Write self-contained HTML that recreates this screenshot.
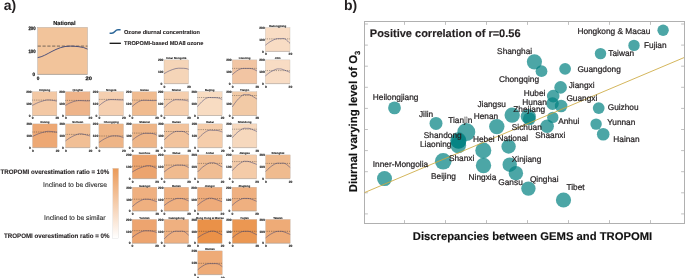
<!DOCTYPE html>
<html><head><meta charset="utf-8"><style>
html,body{margin:0;padding:0;background:#fff;}
body{width:685px;height:278px;overflow:hidden;}
svg{display:block;font-family:"Liberation Sans", sans-serif;will-change:transform;text-rendering:geometricPrecision;}
</style></head><body>
<svg width="685" height="278" viewBox="0 0 685 278" font-family='"Liberation Sans", sans-serif'>
<text x="3.8" y="10.4" font-size="14" font-weight="bold" fill="#231f20">a)</text>
<text x="343.9" y="10.4" font-size="14" font-weight="bold" fill="#231f20">b)</text>
<rect x="37.70" y="27.40" width="49.80" height="47.00" fill="#f2c49b" stroke="#b5aca4" stroke-width="0.5"/>
<line x1="37.70" y1="74.40" x2="87.50" y2="74.40" stroke="#a39890" stroke-width="0.6"/>
<line x1="37.70" y1="46.10" x2="87.50" y2="46.10" stroke="#333" stroke-width="0.65" stroke-dasharray="3.2 1.6"/>
<path d="M37.70,57.60 C46.70,56.40 56.00,46.10 70.00,46.10 C74.00,46.10 83.50,46.60 87.50,49.10" fill="none" stroke="#3d4677" stroke-width="0.90"/>
<g font-size="4.9" font-weight="bold" fill="#1a1a1a" stroke="#1a1a1a" stroke-width="0.25"><text x="28.40" y="29.75" textLength="7.2" lengthAdjust="spacingAndGlyphs">200</text><text x="28.40" y="53.35" textLength="7.2" lengthAdjust="spacingAndGlyphs">100</text><text x="32.40" y="76.35" textLength="2.6" lengthAdjust="spacingAndGlyphs">0</text><text x="36.80" y="80.05" textLength="2.6" lengthAdjust="spacingAndGlyphs">0</text><text x="85.50" y="80.05" textLength="6.4" lengthAdjust="spacingAndGlyphs">20</text></g>
<text x="64.40" y="25.20" font-size="5.7" font-weight="bold" fill="#1a1a1a" stroke="#1a1a1a" stroke-width="0.15" text-anchor="middle">National</text>
<path d="M109.6,33.2 L111.8,33.2 C115,33.2 114.8,29.8 118,29.8 L120.6,29.8" fill="none" stroke="#2d6799" stroke-width="1.5"/>
<line x1="109.6" y1="43.3" x2="120.9" y2="43.3" stroke="#111" stroke-width="1.3"/>
<text x="124" y="34" font-size="5.6" font-weight="bold" fill="#231f20" stroke="#231f20" stroke-width="0.1">Ozone diurnal concentration</text>
<text x="124" y="45.1" font-size="5.6" font-weight="bold" fill="#231f20" stroke="#231f20" stroke-width="0.1">TROPOMI-based MDA8 ozone</text>
<rect x="265.40" y="27.60" width="24.60" height="23.80" fill="#f8dcc4" stroke="#b5aca4" stroke-width="0.3"/>
<line x1="265.40" y1="51.40" x2="290.00" y2="51.40" stroke="#a39890" stroke-width="0.45"/>
<line x1="265.40" y1="38.90" x2="290.00" y2="38.90" stroke="#2a2a2a" stroke-width="0.50" stroke-dasharray="0.8 1.0"/>
<path d="M265.40,45.20 C266.19,44.61 268.40,42.73 270.17,41.68 C271.94,40.63 274.28,39.41 276.00,38.90 C277.72,38.39 279.00,38.65 280.50,38.65 C282.00,38.65 283.42,38.11 285.00,38.90 C286.58,39.69 289.17,42.65 290.00,43.40" fill="none" stroke="#3c4170" stroke-width="0.50"/>
<g font-size="3.3" font-weight="bold" fill="#1a1a1a" stroke="#1a1a1a" stroke-width="0.12" text-anchor="end"><text x="264.80" y="29.18">200</text><text x="264.80" y="41.08">100</text><text x="263.80" y="52.58">0</text></g>
<g font-size="3.3" font-weight="bold" fill="#1a1a1a" stroke="#1a1a1a" stroke-width="0.12" text-anchor="middle"><text x="265.80" y="55.38">0</text><text x="290.40" y="55.38">20</text></g>
<text x="277.70" y="27.00" font-size="2.85" font-weight="bold" fill="#1a1a1a" stroke="#1a1a1a" stroke-width="0.1" text-anchor="middle">Heilongjiang</text>
<rect x="164.00" y="59.90" width="24.60" height="23.80" fill="#f5d5b8" stroke="#b5aca4" stroke-width="0.3"/>
<line x1="164.00" y1="83.70" x2="188.60" y2="83.70" stroke="#a39890" stroke-width="0.45"/>
<path d="M164.00,73.70 C164.90,73.21 167.40,71.65 169.40,70.79 C171.40,69.92 174.07,68.92 176.00,68.50 C177.93,68.08 179.33,68.25 181.00,68.25 C182.67,68.25 184.73,68.31 186.00,68.50 C187.27,68.69 188.17,69.25 188.60,69.40" fill="none" stroke="#3c4170" stroke-width="0.50"/>
<g font-size="3.3" font-weight="bold" fill="#1a1a1a" stroke="#1a1a1a" stroke-width="0.12" text-anchor="end"><text x="163.40" y="61.48">200</text><text x="163.40" y="73.38">100</text><text x="162.40" y="84.88">0</text></g>
<g font-size="3.3" font-weight="bold" fill="#1a1a1a" stroke="#1a1a1a" stroke-width="0.12" text-anchor="middle"><text x="164.40" y="87.68">0</text><text x="189.00" y="87.68">20</text></g>
<text x="176.30" y="59.30" font-size="2.85" font-weight="bold" fill="#1a1a1a" stroke="#1a1a1a" stroke-width="0.1" text-anchor="middle">Inner Mongolia</text>
<rect x="232.30" y="59.90" width="24.60" height="23.80" fill="#f2c5a3" stroke="#b5aca4" stroke-width="0.3"/>
<line x1="232.30" y1="83.70" x2="256.90" y2="83.70" stroke="#a39890" stroke-width="0.45"/>
<line x1="232.30" y1="68.40" x2="256.90" y2="68.40" stroke="#2a2a2a" stroke-width="0.50" stroke-dasharray="0.8 1.0"/>
<path d="M232.30,74.70 C232.95,74.14 234.77,72.34 236.22,71.34 C237.66,70.34 239.29,69.18 241.00,68.70 C242.71,68.22 244.67,68.45 246.50,68.45 C248.33,68.45 250.27,68.29 252.00,68.70 C253.73,69.11 256.08,70.53 256.90,70.90" fill="none" stroke="#3c4170" stroke-width="0.50"/>
<g font-size="3.3" font-weight="bold" fill="#1a1a1a" stroke="#1a1a1a" stroke-width="0.12" text-anchor="end"><text x="231.70" y="61.48">200</text><text x="231.70" y="73.38">100</text><text x="230.70" y="84.88">0</text></g>
<g font-size="3.3" font-weight="bold" fill="#1a1a1a" stroke="#1a1a1a" stroke-width="0.12" text-anchor="middle"><text x="232.70" y="87.68">0</text><text x="257.30" y="87.68">20</text></g>
<text x="244.60" y="59.30" font-size="2.85" font-weight="bold" fill="#1a1a1a" stroke="#1a1a1a" stroke-width="0.1" text-anchor="middle">Liaoning</text>
<rect x="265.40" y="59.90" width="24.60" height="23.80" fill="#f8dcc4" stroke="#b5aca4" stroke-width="0.3"/>
<line x1="265.40" y1="83.70" x2="290.00" y2="83.70" stroke="#a39890" stroke-width="0.45"/>
<line x1="265.40" y1="70.60" x2="290.00" y2="70.60" stroke="#2a2a2a" stroke-width="0.50" stroke-dasharray="0.8 1.0"/>
<path d="M265.40,75.90 C266.19,75.28 268.40,73.28 270.17,72.16 C271.94,71.04 274.53,69.73 276.00,69.20 C277.47,68.66 278.00,68.95 279.00,68.95 C280.00,68.95 280.17,68.64 282.00,69.20 C283.83,69.76 288.67,71.78 290.00,72.30" fill="none" stroke="#3c4170" stroke-width="0.50"/>
<g font-size="3.3" font-weight="bold" fill="#1a1a1a" stroke="#1a1a1a" stroke-width="0.12" text-anchor="end"><text x="264.80" y="61.48">200</text><text x="264.80" y="73.38">100</text><text x="263.80" y="84.88">0</text></g>
<g font-size="3.3" font-weight="bold" fill="#1a1a1a" stroke="#1a1a1a" stroke-width="0.12" text-anchor="middle"><text x="265.80" y="87.68">0</text><text x="290.40" y="87.68">20</text></g>
<text x="277.70" y="59.30" font-size="2.85" font-weight="bold" fill="#1a1a1a" stroke="#1a1a1a" stroke-width="0.1" text-anchor="middle">Jilin</text>
<rect x="32.30" y="91.70" width="24.60" height="23.80" fill="#f3c8a4" stroke="#b5aca4" stroke-width="0.3"/>
<line x1="32.30" y1="115.50" x2="56.90" y2="115.50" stroke="#a39890" stroke-width="0.45"/>
<line x1="32.30" y1="100.10" x2="56.90" y2="100.10" stroke="#2a2a2a" stroke-width="0.50" stroke-dasharray="0.8 1.0"/>
<path d="M32.30,105.40 C33.30,104.91 36.10,103.35 38.33,102.48 C40.56,101.62 43.95,100.62 45.70,100.20 C47.45,99.78 47.80,99.95 48.85,99.95 C49.90,99.95 50.66,100.01 52.00,100.20 C53.34,100.39 56.08,100.95 56.90,101.10" fill="none" stroke="#3c4170" stroke-width="0.50"/>
<g font-size="3.3" font-weight="bold" fill="#1a1a1a" stroke="#1a1a1a" stroke-width="0.12" text-anchor="end"><text x="31.70" y="93.28">200</text><text x="31.70" y="105.18">100</text><text x="30.70" y="116.68">0</text></g>
<g font-size="3.3" font-weight="bold" fill="#1a1a1a" stroke="#1a1a1a" stroke-width="0.12" text-anchor="middle"><text x="32.70" y="119.48">0</text><text x="57.30" y="119.48">20</text></g>
<text x="44.60" y="91.10" font-size="2.85" font-weight="bold" fill="#1a1a1a" stroke="#1a1a1a" stroke-width="0.1" text-anchor="middle">Xinjiang</text>
<rect x="65.40" y="91.70" width="24.60" height="23.80" fill="#eeb48a" stroke="#b5aca4" stroke-width="0.3"/>
<line x1="65.40" y1="115.50" x2="90.00" y2="115.50" stroke="#a39890" stroke-width="0.45"/>
<line x1="65.40" y1="100.40" x2="90.00" y2="100.40" stroke="#2a2a2a" stroke-width="0.50" stroke-dasharray="0.8 1.0"/>
<path d="M65.40,105.40 C66.20,104.98 68.40,103.62 70.17,102.87 C71.94,102.12 74.19,101.27 76.00,100.90 C77.81,100.53 79.33,100.65 81.00,100.65 C82.67,100.65 84.50,100.87 86.00,100.90 C87.50,100.92 89.33,100.82 90.00,100.80" fill="none" stroke="#3c4170" stroke-width="0.50"/>
<g font-size="3.3" font-weight="bold" fill="#1a1a1a" stroke="#1a1a1a" stroke-width="0.12" text-anchor="end"><text x="64.80" y="93.28">200</text><text x="64.80" y="105.18">100</text><text x="63.80" y="116.68">0</text></g>
<g font-size="3.3" font-weight="bold" fill="#1a1a1a" stroke="#1a1a1a" stroke-width="0.12" text-anchor="middle"><text x="65.80" y="119.48">0</text><text x="90.40" y="119.48">20</text></g>
<text x="77.70" y="91.10" font-size="2.85" font-weight="bold" fill="#1a1a1a" stroke="#1a1a1a" stroke-width="0.1" text-anchor="middle">Qinghai</text>
<rect x="98.90" y="91.70" width="24.60" height="23.80" fill="#f5cfb0" stroke="#b5aca4" stroke-width="0.3"/>
<line x1="98.90" y1="115.50" x2="123.50" y2="115.50" stroke="#a39890" stroke-width="0.45"/>
<line x1="98.90" y1="99.40" x2="123.50" y2="99.40" stroke="#2a2a2a" stroke-width="0.50" stroke-dasharray="0.8 1.0"/>
<path d="M98.90,105.90 C99.58,105.34 101.48,103.55 103.00,102.55 C104.51,101.55 106.25,100.38 108.00,99.90 C109.75,99.42 111.67,99.65 113.50,99.65 C115.33,99.65 117.33,99.82 119.00,99.90 C120.67,99.97 122.75,100.07 123.50,100.10" fill="none" stroke="#3c4170" stroke-width="0.50"/>
<g font-size="3.3" font-weight="bold" fill="#1a1a1a" stroke="#1a1a1a" stroke-width="0.12" text-anchor="end"><text x="98.30" y="93.28">200</text><text x="98.30" y="105.18">100</text><text x="97.30" y="116.68">0</text></g>
<g font-size="3.3" font-weight="bold" fill="#1a1a1a" stroke="#1a1a1a" stroke-width="0.12" text-anchor="middle"><text x="99.30" y="119.48">0</text><text x="123.90" y="119.48">20</text></g>
<text x="111.20" y="91.10" font-size="2.85" font-weight="bold" fill="#1a1a1a" stroke="#1a1a1a" stroke-width="0.1" text-anchor="middle">Ningxia</text>
<rect x="132.10" y="91.70" width="24.60" height="23.80" fill="#f0bb8f" stroke="#b5aca4" stroke-width="0.3"/>
<line x1="132.10" y1="115.50" x2="156.70" y2="115.50" stroke="#a39890" stroke-width="0.45"/>
<line x1="132.10" y1="100.10" x2="156.70" y2="100.10" stroke="#2a2a2a" stroke-width="0.50" stroke-dasharray="0.8 1.0"/>
<path d="M132.10,106.60 C132.77,106.04 134.62,104.24 136.10,103.24 C137.59,102.24 139.27,101.08 141.00,100.60 C142.73,100.12 144.67,100.35 146.50,100.35 C148.33,100.35 150.30,100.57 152.00,100.60 C153.70,100.62 155.92,100.52 156.70,100.50" fill="none" stroke="#3c4170" stroke-width="0.50"/>
<g font-size="3.3" font-weight="bold" fill="#1a1a1a" stroke="#1a1a1a" stroke-width="0.12" text-anchor="end"><text x="131.50" y="93.28">200</text><text x="131.50" y="105.18">100</text><text x="130.50" y="116.68">0</text></g>
<g font-size="3.3" font-weight="bold" fill="#1a1a1a" stroke="#1a1a1a" stroke-width="0.12" text-anchor="middle"><text x="132.50" y="119.48">0</text><text x="157.10" y="119.48">20</text></g>
<text x="144.40" y="91.10" font-size="2.85" font-weight="bold" fill="#1a1a1a" stroke="#1a1a1a" stroke-width="0.1" text-anchor="middle">Gansu</text>
<rect x="164.00" y="91.70" width="24.60" height="23.80" fill="#f5cfaf" stroke="#b5aca4" stroke-width="0.3"/>
<line x1="164.00" y1="115.50" x2="188.60" y2="115.50" stroke="#a39890" stroke-width="0.45"/>
<line x1="164.00" y1="99.40" x2="188.60" y2="99.40" stroke="#2a2a2a" stroke-width="0.50" stroke-dasharray="0.8 1.0"/>
<path d="M164.00,107.70 C164.75,106.99 166.83,104.73 168.50,103.47 C170.17,102.20 172.25,100.70 174.00,100.10 C175.75,99.50 177.33,99.85 179.00,99.85 C180.67,99.85 182.40,99.89 184.00,100.10 C185.60,100.31 187.83,100.93 188.60,101.10" fill="none" stroke="#3c4170" stroke-width="0.50"/>
<g font-size="3.3" font-weight="bold" fill="#1a1a1a" stroke="#1a1a1a" stroke-width="0.12" text-anchor="end"><text x="163.40" y="93.28">200</text><text x="163.40" y="105.18">100</text><text x="162.40" y="116.68">0</text></g>
<g font-size="3.3" font-weight="bold" fill="#1a1a1a" stroke="#1a1a1a" stroke-width="0.12" text-anchor="middle"><text x="164.40" y="119.48">0</text><text x="189.00" y="119.48">20</text></g>
<text x="176.30" y="91.10" font-size="2.85" font-weight="bold" fill="#1a1a1a" stroke="#1a1a1a" stroke-width="0.1" text-anchor="middle">Shanxi</text>
<rect x="197.50" y="91.70" width="24.60" height="23.80" fill="#f8dcc2" stroke="#b5aca4" stroke-width="0.3"/>
<line x1="197.50" y1="115.50" x2="222.10" y2="115.50" stroke="#a39890" stroke-width="0.45"/>
<line x1="197.50" y1="97.50" x2="222.10" y2="97.50" stroke="#2a2a2a" stroke-width="0.50" stroke-dasharray="0.8 1.0"/>
<path d="M197.50,106.60 C198.21,105.79 200.19,103.21 201.78,101.76 C203.36,100.31 205.21,98.58 207.00,97.90 C208.79,97.21 210.67,97.65 212.50,97.65 C214.33,97.65 216.40,97.61 218.00,97.90 C219.60,98.19 221.42,99.15 222.10,99.40" fill="none" stroke="#3c4170" stroke-width="0.50"/>
<g font-size="3.3" font-weight="bold" fill="#1a1a1a" stroke="#1a1a1a" stroke-width="0.12" text-anchor="end"><text x="196.90" y="93.28">200</text><text x="196.90" y="105.18">100</text><text x="195.90" y="116.68">0</text></g>
<g font-size="3.3" font-weight="bold" fill="#1a1a1a" stroke="#1a1a1a" stroke-width="0.12" text-anchor="middle"><text x="197.90" y="119.48">0</text><text x="222.50" y="119.48">20</text></g>
<text x="209.80" y="91.10" font-size="2.85" font-weight="bold" fill="#1a1a1a" stroke="#1a1a1a" stroke-width="0.1" text-anchor="middle">Beijing</text>
<rect x="232.30" y="91.70" width="24.60" height="23.80" fill="#f2caa6" stroke="#b5aca4" stroke-width="0.3"/>
<line x1="232.30" y1="115.50" x2="256.90" y2="115.50" stroke="#a39890" stroke-width="0.45"/>
<line x1="232.30" y1="95.50" x2="256.90" y2="95.50" stroke="#2a2a2a" stroke-width="0.50" stroke-dasharray="0.8 1.0"/>
<path d="M232.30,106.90 C233.10,105.79 235.33,102.25 237.12,100.25 C238.90,98.25 241.44,95.83 243.00,94.90 C244.56,93.97 245.33,94.65 246.50,94.65 C247.67,94.65 248.27,94.17 250.00,94.90 C251.73,95.62 255.75,98.32 256.90,99.00" fill="none" stroke="#3c4170" stroke-width="0.50"/>
<g font-size="3.3" font-weight="bold" fill="#1a1a1a" stroke="#1a1a1a" stroke-width="0.12" text-anchor="end"><text x="231.70" y="93.28">200</text><text x="231.70" y="105.18">100</text><text x="230.70" y="116.68">0</text></g>
<g font-size="3.3" font-weight="bold" fill="#1a1a1a" stroke="#1a1a1a" stroke-width="0.12" text-anchor="middle"><text x="232.70" y="119.48">0</text><text x="257.30" y="119.48">20</text></g>
<text x="244.60" y="91.10" font-size="2.85" font-weight="bold" fill="#1a1a1a" stroke="#1a1a1a" stroke-width="0.1" text-anchor="middle">Tianjin</text>
<rect x="32.50" y="123.90" width="24.60" height="23.80" fill="#eda874" stroke="#b5aca4" stroke-width="0.3"/>
<line x1="32.50" y1="147.70" x2="57.10" y2="147.70" stroke="#a39890" stroke-width="0.45"/>
<line x1="32.50" y1="132.00" x2="57.10" y2="132.00" stroke="#2a2a2a" stroke-width="0.50" stroke-dasharray="0.8 1.0"/>
<path d="M32.50,136.50 C33.51,136.04 36.33,134.57 38.58,133.75 C40.83,132.93 44.26,132.00 46.00,131.60 C47.74,131.20 48.00,131.35 49.00,131.35 C50.00,131.35 50.65,131.44 52.00,131.60 C53.35,131.76 56.25,132.18 57.10,132.30" fill="none" stroke="#3c4170" stroke-width="0.50"/>
<g font-size="3.3" font-weight="bold" fill="#1a1a1a" stroke="#1a1a1a" stroke-width="0.12" text-anchor="end"><text x="31.90" y="125.48">200</text><text x="31.90" y="137.38">100</text><text x="30.90" y="148.88">0</text></g>
<g font-size="3.3" font-weight="bold" fill="#1a1a1a" stroke="#1a1a1a" stroke-width="0.12" text-anchor="middle"><text x="32.90" y="151.68">0</text><text x="57.50" y="151.68">20</text></g>
<text x="44.80" y="123.30" font-size="2.85" font-weight="bold" fill="#1a1a1a" stroke="#1a1a1a" stroke-width="0.1" text-anchor="middle">Xizang</text>
<rect x="65.50" y="123.90" width="24.60" height="23.80" fill="#f1bf95" stroke="#b5aca4" stroke-width="0.3"/>
<line x1="65.50" y1="147.70" x2="90.10" y2="147.70" stroke="#a39890" stroke-width="0.45"/>
<line x1="65.50" y1="134.40" x2="90.10" y2="134.40" stroke="#2a2a2a" stroke-width="0.50" stroke-dasharray="0.8 1.0"/>
<path d="M65.50,140.90 C66.44,140.27 69.04,138.24 71.12,137.10 C73.21,135.97 76.44,134.64 78.00,134.10 C79.56,133.56 79.67,133.85 80.50,133.85 C81.33,133.85 81.40,133.74 83.00,134.10 C84.60,134.46 88.92,135.68 90.10,136.00" fill="none" stroke="#3c4170" stroke-width="0.50"/>
<g font-size="3.3" font-weight="bold" fill="#1a1a1a" stroke="#1a1a1a" stroke-width="0.12" text-anchor="end"><text x="64.90" y="125.48">200</text><text x="64.90" y="137.38">100</text><text x="63.90" y="148.88">0</text></g>
<g font-size="3.3" font-weight="bold" fill="#1a1a1a" stroke="#1a1a1a" stroke-width="0.12" text-anchor="middle"><text x="65.90" y="151.68">0</text><text x="90.50" y="151.68">20</text></g>
<text x="77.80" y="123.30" font-size="2.85" font-weight="bold" fill="#1a1a1a" stroke="#1a1a1a" stroke-width="0.1" text-anchor="middle">Sichuan</text>
<rect x="98.90" y="123.90" width="24.60" height="23.80" fill="#eeb587" stroke="#b5aca4" stroke-width="0.3"/>
<line x1="98.90" y1="147.70" x2="123.50" y2="147.70" stroke="#a39890" stroke-width="0.45"/>
<line x1="98.90" y1="136.00" x2="123.50" y2="136.00" stroke="#2a2a2a" stroke-width="0.50" stroke-dasharray="0.8 1.0"/>
<path d="M98.90,142.50 C99.81,141.90 102.33,139.99 104.34,138.93 C106.36,137.86 109.22,136.61 111.00,136.10 C112.78,135.59 113.67,135.85 115.00,135.85 C116.33,135.85 117.58,135.79 119.00,136.10 C120.42,136.41 122.75,137.43 123.50,137.70" fill="none" stroke="#3c4170" stroke-width="0.50"/>
<g font-size="3.3" font-weight="bold" fill="#1a1a1a" stroke="#1a1a1a" stroke-width="0.12" text-anchor="end"><text x="98.30" y="125.48">200</text><text x="98.30" y="137.38">100</text><text x="97.30" y="148.88">0</text></g>
<g font-size="3.3" font-weight="bold" fill="#1a1a1a" stroke="#1a1a1a" stroke-width="0.12" text-anchor="middle"><text x="99.30" y="151.68">0</text><text x="123.90" y="151.68">20</text></g>
<text x="111.20" y="123.30" font-size="2.85" font-weight="bold" fill="#1a1a1a" stroke="#1a1a1a" stroke-width="0.1" text-anchor="middle">Chongqing</text>
<rect x="132.30" y="123.90" width="24.60" height="23.80" fill="#eeb587" stroke="#b5aca4" stroke-width="0.3"/>
<line x1="132.30" y1="147.70" x2="156.90" y2="147.70" stroke="#a39890" stroke-width="0.45"/>
<line x1="132.30" y1="133.10" x2="156.90" y2="133.10" stroke="#2a2a2a" stroke-width="0.50" stroke-dasharray="0.8 1.0"/>
<path d="M132.30,140.10 C133.10,139.50 135.33,137.55 137.12,136.47 C138.90,135.39 141.19,134.12 143.00,133.60 C144.81,133.08 146.33,133.35 148.00,133.35 C149.67,133.35 151.52,133.29 153.00,133.60 C154.48,133.91 156.25,134.93 156.90,135.20" fill="none" stroke="#3c4170" stroke-width="0.50"/>
<g font-size="3.3" font-weight="bold" fill="#1a1a1a" stroke="#1a1a1a" stroke-width="0.12" text-anchor="end"><text x="131.70" y="125.48">200</text><text x="131.70" y="137.38">100</text><text x="130.70" y="148.88">0</text></g>
<g font-size="3.3" font-weight="bold" fill="#1a1a1a" stroke="#1a1a1a" stroke-width="0.12" text-anchor="middle"><text x="132.70" y="151.68">0</text><text x="157.30" y="151.68">20</text></g>
<text x="144.60" y="123.30" font-size="2.85" font-weight="bold" fill="#1a1a1a" stroke="#1a1a1a" stroke-width="0.1" text-anchor="middle">Shaanxi</text>
<rect x="164.30" y="123.90" width="24.60" height="23.80" fill="#f2c39c" stroke="#b5aca4" stroke-width="0.3"/>
<line x1="164.30" y1="147.70" x2="188.90" y2="147.70" stroke="#a39890" stroke-width="0.45"/>
<line x1="164.30" y1="131.50" x2="188.90" y2="131.50" stroke="#2a2a2a" stroke-width="0.50" stroke-dasharray="0.8 1.0"/>
<path d="M164.30,139.80 C165.10,139.05 167.33,136.64 169.12,135.29 C170.90,133.94 173.27,132.34 175.00,131.70 C176.73,131.06 178.00,131.45 179.50,131.45 C181.00,131.45 182.43,131.16 184.00,131.70 C185.57,132.24 188.08,134.20 188.90,134.70" fill="none" stroke="#3c4170" stroke-width="0.50"/>
<g font-size="3.3" font-weight="bold" fill="#1a1a1a" stroke="#1a1a1a" stroke-width="0.12" text-anchor="end"><text x="163.70" y="125.48">200</text><text x="163.70" y="137.38">100</text><text x="162.70" y="148.88">0</text></g>
<g font-size="3.3" font-weight="bold" fill="#1a1a1a" stroke="#1a1a1a" stroke-width="0.12" text-anchor="middle"><text x="164.70" y="151.68">0</text><text x="189.30" y="151.68">20</text></g>
<text x="176.60" y="123.30" font-size="2.85" font-weight="bold" fill="#1a1a1a" stroke="#1a1a1a" stroke-width="0.1" text-anchor="middle">Henan</text>
<rect x="197.80" y="123.90" width="24.60" height="23.80" fill="#f5cdab" stroke="#b5aca4" stroke-width="0.3"/>
<line x1="197.80" y1="147.70" x2="222.40" y2="147.70" stroke="#a39890" stroke-width="0.45"/>
<line x1="197.80" y1="129.60" x2="222.40" y2="129.60" stroke="#2a2a2a" stroke-width="0.50" stroke-dasharray="0.8 1.0"/>
<path d="M197.80,139.00 C198.56,138.22 200.69,135.72 202.39,134.32 C204.09,132.92 206.23,131.26 208.00,130.60 C209.77,129.94 211.33,130.35 213.00,130.35 C214.67,130.35 216.43,130.32 218.00,130.60 C219.57,130.88 221.67,131.77 222.40,132.00" fill="none" stroke="#3c4170" stroke-width="0.50"/>
<g font-size="3.3" font-weight="bold" fill="#1a1a1a" stroke="#1a1a1a" stroke-width="0.12" text-anchor="end"><text x="197.20" y="125.48">200</text><text x="197.20" y="137.38">100</text><text x="196.20" y="148.88">0</text></g>
<g font-size="3.3" font-weight="bold" fill="#1a1a1a" stroke="#1a1a1a" stroke-width="0.12" text-anchor="middle"><text x="198.20" y="151.68">0</text><text x="222.80" y="151.68">20</text></g>
<text x="210.10" y="123.30" font-size="2.85" font-weight="bold" fill="#1a1a1a" stroke="#1a1a1a" stroke-width="0.1" text-anchor="middle">Hebei</text>
<rect x="232.30" y="123.90" width="24.60" height="23.80" fill="#f6d8bd" stroke="#b5aca4" stroke-width="0.3"/>
<line x1="232.30" y1="147.70" x2="256.90" y2="147.70" stroke="#a39890" stroke-width="0.45"/>
<line x1="232.30" y1="129.20" x2="256.90" y2="129.20" stroke="#2a2a2a" stroke-width="0.50" stroke-dasharray="0.8 1.0"/>
<path d="M232.30,137.70 C233.10,136.86 235.33,134.16 237.12,132.64 C238.90,131.12 241.44,129.31 243.00,128.60 C244.56,127.88 245.33,128.35 246.50,128.35 C247.67,128.35 248.27,128.07 250.00,128.60 C251.73,129.12 255.75,131.02 256.90,131.50" fill="none" stroke="#3c4170" stroke-width="0.50"/>
<g font-size="3.3" font-weight="bold" fill="#1a1a1a" stroke="#1a1a1a" stroke-width="0.12" text-anchor="end"><text x="231.70" y="125.48">200</text><text x="231.70" y="137.38">100</text><text x="230.70" y="148.88">0</text></g>
<g font-size="3.3" font-weight="bold" fill="#1a1a1a" stroke="#1a1a1a" stroke-width="0.12" text-anchor="middle"><text x="232.70" y="151.68">0</text><text x="257.30" y="151.68">20</text></g>
<text x="244.60" y="123.30" font-size="2.85" font-weight="bold" fill="#1a1a1a" stroke="#1a1a1a" stroke-width="0.1" text-anchor="middle">Shandong</text>
<rect x="132.20" y="154.90" width="24.60" height="23.80" fill="#eca46e" stroke="#b5aca4" stroke-width="0.3"/>
<line x1="132.20" y1="178.70" x2="156.80" y2="178.70" stroke="#a39890" stroke-width="0.45"/>
<line x1="132.20" y1="166.20" x2="156.80" y2="166.20" stroke="#2a2a2a" stroke-width="0.50" stroke-dasharray="0.8 1.0"/>
<path d="M132.20,172.00 C133.23,171.43 136.11,169.61 138.41,168.59 C140.71,167.57 144.32,166.39 146.00,165.90 C147.68,165.41 147.67,165.65 148.50,165.65 C149.33,165.65 149.62,165.44 151.00,165.90 C152.38,166.36 155.83,167.98 156.80,168.40" fill="none" stroke="#3c4170" stroke-width="0.50"/>
<g font-size="3.3" font-weight="bold" fill="#1a1a1a" stroke="#1a1a1a" stroke-width="0.12" text-anchor="end"><text x="131.60" y="156.48">200</text><text x="131.60" y="168.38">100</text><text x="130.60" y="179.88">0</text></g>
<g font-size="3.3" font-weight="bold" fill="#1a1a1a" stroke="#1a1a1a" stroke-width="0.12" text-anchor="middle"><text x="132.60" y="182.68">0</text><text x="157.20" y="182.68">20</text></g>
<text x="144.50" y="154.30" font-size="2.85" font-weight="bold" fill="#1a1a1a" stroke="#1a1a1a" stroke-width="0.1" text-anchor="middle">Guizhou</text>
<rect x="164.10" y="154.90" width="24.60" height="23.80" fill="#f0bb8f" stroke="#b5aca4" stroke-width="0.3"/>
<line x1="164.10" y1="178.70" x2="188.70" y2="178.70" stroke="#a39890" stroke-width="0.45"/>
<line x1="164.10" y1="165.10" x2="188.70" y2="165.10" stroke="#2a2a2a" stroke-width="0.50" stroke-dasharray="0.8 1.0"/>
<path d="M164.10,172.00 C164.92,171.39 167.19,169.41 169.00,168.31 C170.82,167.22 173.25,165.93 175.00,165.40 C176.75,164.87 178.00,165.15 179.50,165.15 C181.00,165.15 182.47,165.01 184.00,165.40 C185.53,165.79 187.92,167.15 188.70,167.50" fill="none" stroke="#3c4170" stroke-width="0.50"/>
<g font-size="3.3" font-weight="bold" fill="#1a1a1a" stroke="#1a1a1a" stroke-width="0.12" text-anchor="end"><text x="163.50" y="156.48">200</text><text x="163.50" y="168.38">100</text><text x="162.50" y="179.88">0</text></g>
<g font-size="3.3" font-weight="bold" fill="#1a1a1a" stroke="#1a1a1a" stroke-width="0.12" text-anchor="middle"><text x="164.50" y="182.68">0</text><text x="189.10" y="182.68">20</text></g>
<text x="176.40" y="154.30" font-size="2.85" font-weight="bold" fill="#1a1a1a" stroke="#1a1a1a" stroke-width="0.1" text-anchor="middle">Hubei</text>
<rect x="197.60" y="154.90" width="24.60" height="23.80" fill="#f0bd93" stroke="#b5aca4" stroke-width="0.3"/>
<line x1="197.60" y1="178.70" x2="222.20" y2="178.70" stroke="#a39890" stroke-width="0.45"/>
<line x1="197.60" y1="163.40" x2="222.20" y2="163.40" stroke="#2a2a2a" stroke-width="0.50" stroke-dasharray="0.8 1.0"/>
<path d="M197.60,172.00 C198.45,171.18 200.83,168.53 202.73,167.05 C204.63,165.57 207.45,163.80 209.00,163.10 C210.55,162.40 211.00,162.85 212.00,162.85 C213.00,162.85 213.30,162.41 215.00,163.10 C216.70,163.79 221.00,166.35 222.20,167.00" fill="none" stroke="#3c4170" stroke-width="0.50"/>
<g font-size="3.3" font-weight="bold" fill="#1a1a1a" stroke="#1a1a1a" stroke-width="0.12" text-anchor="end"><text x="197.00" y="156.48">200</text><text x="197.00" y="168.38">100</text><text x="196.00" y="179.88">0</text></g>
<g font-size="3.3" font-weight="bold" fill="#1a1a1a" stroke="#1a1a1a" stroke-width="0.12" text-anchor="middle"><text x="198.00" y="182.68">0</text><text x="222.60" y="182.68">20</text></g>
<text x="209.90" y="154.30" font-size="2.85" font-weight="bold" fill="#1a1a1a" stroke="#1a1a1a" stroke-width="0.1" text-anchor="middle">Anhui</text>
<rect x="232.20" y="154.90" width="24.60" height="23.80" fill="#f4cba8" stroke="#b5aca4" stroke-width="0.3"/>
<line x1="232.20" y1="178.70" x2="256.80" y2="178.70" stroke="#a39890" stroke-width="0.45"/>
<line x1="232.20" y1="161.60" x2="256.80" y2="161.60" stroke="#2a2a2a" stroke-width="0.50" stroke-dasharray="0.8 1.0"/>
<path d="M232.20,170.70 C233.01,169.86 235.26,167.16 237.06,165.64 C238.86,164.12 241.51,162.31 243.00,161.60 C244.49,160.88 245.00,161.35 246.00,161.35 C247.00,161.35 247.20,161.09 249.00,161.60 C250.80,162.11 255.50,163.93 256.80,164.40" fill="none" stroke="#3c4170" stroke-width="0.50"/>
<g font-size="3.3" font-weight="bold" fill="#1a1a1a" stroke="#1a1a1a" stroke-width="0.12" text-anchor="end"><text x="231.60" y="156.48">200</text><text x="231.60" y="168.38">100</text><text x="230.60" y="179.88">0</text></g>
<g font-size="3.3" font-weight="bold" fill="#1a1a1a" stroke="#1a1a1a" stroke-width="0.12" text-anchor="middle"><text x="232.60" y="182.68">0</text><text x="257.20" y="182.68">20</text></g>
<text x="244.50" y="154.30" font-size="2.85" font-weight="bold" fill="#1a1a1a" stroke="#1a1a1a" stroke-width="0.1" text-anchor="middle">Jiangsu</text>
<rect x="265.60" y="154.90" width="24.60" height="23.80" fill="#efbb8f" stroke="#b5aca4" stroke-width="0.3"/>
<line x1="265.60" y1="178.70" x2="290.20" y2="178.70" stroke="#a39890" stroke-width="0.45"/>
<line x1="265.60" y1="163.40" x2="290.20" y2="163.40" stroke="#2a2a2a" stroke-width="0.50" stroke-dasharray="0.8 1.0"/>
<path d="M265.60,171.60 C266.38,170.85 268.55,168.44 270.28,167.09 C272.01,165.74 274.30,164.14 276.00,163.50 C277.70,162.86 279.00,163.25 280.50,163.25 C282.00,163.25 283.38,162.79 285.00,163.50 C286.62,164.21 289.33,166.83 290.20,167.50" fill="none" stroke="#3c4170" stroke-width="0.50"/>
<g font-size="3.3" font-weight="bold" fill="#1a1a1a" stroke="#1a1a1a" stroke-width="0.12" text-anchor="end"><text x="265.00" y="156.48">200</text><text x="265.00" y="168.38">100</text><text x="264.00" y="179.88">0</text></g>
<g font-size="3.3" font-weight="bold" fill="#1a1a1a" stroke="#1a1a1a" stroke-width="0.12" text-anchor="middle"><text x="266.00" y="182.68">0</text><text x="290.60" y="182.68">20</text></g>
<text x="277.90" y="154.30" font-size="2.85" font-weight="bold" fill="#1a1a1a" stroke="#1a1a1a" stroke-width="0.1" text-anchor="middle">Shanghai</text>
<rect x="132.30" y="187.20" width="24.60" height="23.80" fill="#efb080" stroke="#b5aca4" stroke-width="0.3"/>
<line x1="132.30" y1="211.00" x2="156.90" y2="211.00" stroke="#a39890" stroke-width="0.45"/>
<line x1="132.30" y1="199.20" x2="156.90" y2="199.20" stroke="#2a2a2a" stroke-width="0.50" stroke-dasharray="0.8 1.0"/>
<path d="M132.30,206.60 C133.10,205.94 135.33,203.82 137.12,202.64 C138.90,201.46 141.44,200.06 143.00,199.50 C144.56,198.94 145.33,199.25 146.50,199.25 C147.67,199.25 148.27,199.09 150.00,199.50 C151.73,199.91 155.75,201.33 156.90,201.70" fill="none" stroke="#3c4170" stroke-width="0.50"/>
<g font-size="3.3" font-weight="bold" fill="#1a1a1a" stroke="#1a1a1a" stroke-width="0.12" text-anchor="end"><text x="131.70" y="188.78">200</text><text x="131.70" y="200.68">100</text><text x="130.70" y="212.18">0</text></g>
<g font-size="3.3" font-weight="bold" fill="#1a1a1a" stroke="#1a1a1a" stroke-width="0.12" text-anchor="middle"><text x="132.70" y="214.98">0</text><text x="157.30" y="214.98">20</text></g>
<text x="144.60" y="186.60" font-size="2.85" font-weight="bold" fill="#1a1a1a" stroke="#1a1a1a" stroke-width="0.1" text-anchor="middle">Guangxi</text>
<rect x="164.10" y="187.20" width="24.60" height="23.80" fill="#efb080" stroke="#b5aca4" stroke-width="0.3"/>
<line x1="164.10" y1="211.00" x2="188.70" y2="211.00" stroke="#a39890" stroke-width="0.45"/>
<line x1="164.10" y1="198.60" x2="188.70" y2="198.60" stroke="#2a2a2a" stroke-width="0.50" stroke-dasharray="0.8 1.0"/>
<path d="M164.10,205.50 C164.99,204.87 167.47,202.84 169.45,201.70 C171.44,200.57 174.33,199.24 176.00,198.70 C177.67,198.16 178.33,198.45 179.50,198.45 C180.67,198.45 181.47,198.29 183.00,198.70 C184.53,199.11 187.75,200.53 188.70,200.90" fill="none" stroke="#3c4170" stroke-width="0.50"/>
<g font-size="3.3" font-weight="bold" fill="#1a1a1a" stroke="#1a1a1a" stroke-width="0.12" text-anchor="end"><text x="163.50" y="188.78">200</text><text x="163.50" y="200.68">100</text><text x="162.50" y="212.18">0</text></g>
<g font-size="3.3" font-weight="bold" fill="#1a1a1a" stroke="#1a1a1a" stroke-width="0.12" text-anchor="middle"><text x="164.50" y="214.98">0</text><text x="189.10" y="214.98">20</text></g>
<text x="176.40" y="186.60" font-size="2.85" font-weight="bold" fill="#1a1a1a" stroke="#1a1a1a" stroke-width="0.1" text-anchor="middle">Hunan</text>
<rect x="197.40" y="187.20" width="24.60" height="23.80" fill="#eeab7a" stroke="#b5aca4" stroke-width="0.3"/>
<line x1="197.40" y1="211.00" x2="222.00" y2="211.00" stroke="#a39890" stroke-width="0.45"/>
<line x1="197.40" y1="198.60" x2="222.00" y2="198.60" stroke="#2a2a2a" stroke-width="0.50" stroke-dasharray="0.8 1.0"/>
<path d="M197.40,205.50 C198.19,204.85 200.40,202.76 202.17,201.59 C203.94,200.43 206.61,199.06 208.00,198.50 C209.39,197.94 209.67,198.25 210.50,198.25 C211.33,198.25 211.08,197.93 213.00,198.50 C214.92,199.07 220.50,201.17 222.00,201.70" fill="none" stroke="#3c4170" stroke-width="0.50"/>
<g font-size="3.3" font-weight="bold" fill="#1a1a1a" stroke="#1a1a1a" stroke-width="0.12" text-anchor="end"><text x="196.80" y="188.78">200</text><text x="196.80" y="200.68">100</text><text x="195.80" y="212.18">0</text></g>
<g font-size="3.3" font-weight="bold" fill="#1a1a1a" stroke="#1a1a1a" stroke-width="0.12" text-anchor="middle"><text x="197.80" y="214.98">0</text><text x="222.40" y="214.98">20</text></g>
<text x="209.70" y="186.60" font-size="2.85" font-weight="bold" fill="#1a1a1a" stroke="#1a1a1a" stroke-width="0.1" text-anchor="middle">Jiangxi</text>
<rect x="232.00" y="187.20" width="24.60" height="23.80" fill="#efb080" stroke="#b5aca4" stroke-width="0.3"/>
<line x1="232.00" y1="211.00" x2="256.60" y2="211.00" stroke="#a39890" stroke-width="0.45"/>
<line x1="232.00" y1="198.60" x2="256.60" y2="198.60" stroke="#2a2a2a" stroke-width="0.50" stroke-dasharray="0.8 1.0"/>
<path d="M232.00,205.50 C232.75,204.87 234.83,202.84 236.50,201.70 C238.17,200.57 240.42,199.24 242.00,198.70 C243.58,198.16 244.67,198.45 246.00,198.45 C247.33,198.45 248.23,198.22 250.00,198.70 C251.77,199.17 255.50,200.87 256.60,201.30" fill="none" stroke="#3c4170" stroke-width="0.50"/>
<g font-size="3.3" font-weight="bold" fill="#1a1a1a" stroke="#1a1a1a" stroke-width="0.12" text-anchor="end"><text x="231.40" y="188.78">200</text><text x="231.40" y="200.68">100</text><text x="230.40" y="212.18">0</text></g>
<g font-size="3.3" font-weight="bold" fill="#1a1a1a" stroke="#1a1a1a" stroke-width="0.12" text-anchor="middle"><text x="232.40" y="214.98">0</text><text x="257.00" y="214.98">20</text></g>
<text x="244.30" y="186.60" font-size="2.85" font-weight="bold" fill="#1a1a1a" stroke="#1a1a1a" stroke-width="0.1" text-anchor="middle">Zhejiang</text>
<rect x="132.10" y="219.40" width="24.60" height="23.80" fill="#eda46f" stroke="#b5aca4" stroke-width="0.3"/>
<line x1="132.10" y1="243.20" x2="156.70" y2="243.20" stroke="#a39890" stroke-width="0.45"/>
<line x1="132.10" y1="230.70" x2="156.70" y2="230.70" stroke="#2a2a2a" stroke-width="0.50" stroke-dasharray="0.8 1.0"/>
<path d="M132.10,237.50 C132.92,236.90 135.19,234.99 137.00,233.93 C138.82,232.86 141.25,231.61 143.00,231.10 C144.75,230.59 146.00,230.85 147.50,230.85 C149.00,230.85 150.47,230.82 152.00,231.10 C153.53,231.38 155.92,232.27 156.70,232.50" fill="none" stroke="#3c4170" stroke-width="0.50"/>
<g font-size="3.3" font-weight="bold" fill="#1a1a1a" stroke="#1a1a1a" stroke-width="0.12" text-anchor="end"><text x="131.50" y="220.98">200</text><text x="131.50" y="232.88">100</text><text x="130.50" y="244.38">0</text></g>
<g font-size="3.3" font-weight="bold" fill="#1a1a1a" stroke="#1a1a1a" stroke-width="0.12" text-anchor="middle"><text x="132.50" y="247.18">0</text><text x="157.10" y="247.18">20</text></g>
<text x="144.40" y="218.80" font-size="2.85" font-weight="bold" fill="#1a1a1a" stroke="#1a1a1a" stroke-width="0.1" text-anchor="middle">Yunnan</text>
<rect x="164.10" y="219.40" width="24.60" height="23.80" fill="#efb080" stroke="#b5aca4" stroke-width="0.3"/>
<line x1="164.10" y1="243.20" x2="188.70" y2="243.20" stroke="#a39890" stroke-width="0.45"/>
<line x1="164.10" y1="231.40" x2="188.70" y2="231.40" stroke="#2a2a2a" stroke-width="0.50" stroke-dasharray="0.8 1.0"/>
<path d="M164.10,239.00 C164.84,238.30 166.91,236.07 168.56,234.82 C170.21,233.57 172.26,232.09 174.00,231.50 C175.74,230.91 177.33,231.25 179.00,231.25 C180.67,231.25 182.38,230.84 184.00,231.50 C185.62,232.16 187.92,234.58 188.70,235.20" fill="none" stroke="#3c4170" stroke-width="0.50"/>
<g font-size="3.3" font-weight="bold" fill="#1a1a1a" stroke="#1a1a1a" stroke-width="0.12" text-anchor="end"><text x="163.50" y="220.98">200</text><text x="163.50" y="232.88">100</text><text x="162.50" y="244.38">0</text></g>
<g font-size="3.3" font-weight="bold" fill="#1a1a1a" stroke="#1a1a1a" stroke-width="0.12" text-anchor="middle"><text x="164.50" y="247.18">0</text><text x="189.10" y="247.18">20</text></g>
<text x="176.40" y="218.80" font-size="2.85" font-weight="bold" fill="#1a1a1a" stroke="#1a1a1a" stroke-width="0.1" text-anchor="middle">Guangdong</text>
<rect x="197.50" y="219.40" width="24.60" height="23.80" fill="#ea9148" stroke="#b5aca4" stroke-width="0.3"/>
<line x1="197.50" y1="243.20" x2="222.10" y2="243.20" stroke="#a39890" stroke-width="0.45"/>
<line x1="197.50" y1="231.30" x2="222.10" y2="231.30" stroke="#2a2a2a" stroke-width="0.50" stroke-dasharray="0.8 1.0"/>
<path d="M197.50,237.90 C198.44,237.30 201.04,235.35 203.12,234.27 C205.21,233.19 208.44,231.92 210.00,231.40 C211.56,230.88 211.67,231.15 212.50,231.15 C213.33,231.15 213.40,230.79 215.00,231.40 C216.60,232.01 220.92,234.23 222.10,234.80" fill="none" stroke="#3c4170" stroke-width="0.50"/>
<g font-size="3.3" font-weight="bold" fill="#1a1a1a" stroke="#1a1a1a" stroke-width="0.12" text-anchor="end"><text x="196.90" y="220.98">200</text><text x="196.90" y="232.88">100</text><text x="195.90" y="244.38">0</text></g>
<g font-size="3.3" font-weight="bold" fill="#1a1a1a" stroke="#1a1a1a" stroke-width="0.12" text-anchor="middle"><text x="197.90" y="247.18">0</text><text x="222.50" y="247.18">20</text></g>
<text x="209.80" y="218.80" font-size="2.85" font-weight="bold" fill="#1a1a1a" stroke="#1a1a1a" stroke-width="0.1" text-anchor="middle">Hong Kong &amp; Macau</text>
<rect x="232.30" y="219.40" width="24.60" height="23.80" fill="#eb9752" stroke="#b5aca4" stroke-width="0.3"/>
<line x1="232.30" y1="243.20" x2="256.90" y2="243.20" stroke="#a39890" stroke-width="0.45"/>
<line x1="232.30" y1="231.30" x2="256.90" y2="231.30" stroke="#2a2a2a" stroke-width="0.50" stroke-dasharray="0.8 1.0"/>
<path d="M232.30,237.90 C233.03,237.31 235.05,235.43 236.67,234.38 C238.28,233.33 240.44,232.10 242.00,231.60 C243.56,231.09 244.67,231.35 246.00,231.35 C247.33,231.35 248.18,231.02 250.00,231.60 C251.82,232.18 255.75,234.27 256.90,234.80" fill="none" stroke="#3c4170" stroke-width="0.50"/>
<g font-size="3.3" font-weight="bold" fill="#1a1a1a" stroke="#1a1a1a" stroke-width="0.12" text-anchor="end"><text x="231.70" y="220.98">200</text><text x="231.70" y="232.88">100</text><text x="230.70" y="244.38">0</text></g>
<g font-size="3.3" font-weight="bold" fill="#1a1a1a" stroke="#1a1a1a" stroke-width="0.12" text-anchor="middle"><text x="232.70" y="247.18">0</text><text x="257.30" y="247.18">20</text></g>
<text x="244.60" y="218.80" font-size="2.85" font-weight="bold" fill="#1a1a1a" stroke="#1a1a1a" stroke-width="0.1" text-anchor="middle">Fujian</text>
<rect x="265.60" y="219.40" width="24.60" height="23.80" fill="#eeab77" stroke="#b5aca4" stroke-width="0.3"/>
<line x1="265.60" y1="243.20" x2="290.20" y2="243.20" stroke="#a39890" stroke-width="0.45"/>
<line x1="265.60" y1="231.30" x2="290.20" y2="231.30" stroke="#2a2a2a" stroke-width="0.50" stroke-dasharray="0.8 1.0"/>
<path d="M265.60,237.90 C266.38,237.31 268.55,235.43 270.28,234.38 C272.01,233.33 274.46,232.10 276.00,231.60 C277.54,231.09 278.33,231.35 279.50,231.35 C280.67,231.35 281.22,231.09 283.00,231.60 C284.78,232.11 289.00,233.93 290.20,234.40" fill="none" stroke="#3c4170" stroke-width="0.50"/>
<g font-size="3.3" font-weight="bold" fill="#1a1a1a" stroke="#1a1a1a" stroke-width="0.12" text-anchor="end"><text x="265.00" y="220.98">200</text><text x="265.00" y="232.88">100</text><text x="264.00" y="244.38">0</text></g>
<g font-size="3.3" font-weight="bold" fill="#1a1a1a" stroke="#1a1a1a" stroke-width="0.12" text-anchor="middle"><text x="266.00" y="247.18">0</text><text x="290.60" y="247.18">20</text></g>
<text x="277.90" y="218.80" font-size="2.85" font-weight="bold" fill="#1a1a1a" stroke="#1a1a1a" stroke-width="0.1" text-anchor="middle">Taiwan</text>
<rect x="197.70" y="250.90" width="24.60" height="23.80" fill="#eeab77" stroke="#b5aca4" stroke-width="0.3"/>
<line x1="197.70" y1="274.70" x2="222.30" y2="274.70" stroke="#a39890" stroke-width="0.45"/>
<line x1="197.70" y1="263.30" x2="222.30" y2="263.30" stroke="#2a2a2a" stroke-width="0.50" stroke-dasharray="0.8 1.0"/>
<path d="M197.70,269.80 C198.40,269.25 200.33,267.48 201.88,266.50 C203.44,265.52 205.23,264.38 207.00,263.90 C208.77,263.43 210.67,263.65 212.50,263.65 C214.33,263.65 216.37,263.39 218.00,263.90 C219.63,264.41 221.58,266.23 222.30,266.70" fill="none" stroke="#3c4170" stroke-width="0.50"/>
<g font-size="3.3" font-weight="bold" fill="#1a1a1a" stroke="#1a1a1a" stroke-width="0.12" text-anchor="end"><text x="197.10" y="252.48">200</text><text x="197.10" y="264.38">100</text><text x="196.10" y="275.88">0</text></g>
<g font-size="3.3" font-weight="bold" fill="#1a1a1a" stroke="#1a1a1a" stroke-width="0.12" text-anchor="middle"><text x="198.10" y="278.68">0</text><text x="222.70" y="278.68">20</text></g>
<text x="210.00" y="250.30" font-size="2.85" font-weight="bold" fill="#1a1a1a" stroke="#1a1a1a" stroke-width="0.1" text-anchor="middle">Hainan</text>
<defs><linearGradient id="cb" x1="0" y1="0" x2="0" y2="1"><stop offset="0" stop-color="#eb9a58"/><stop offset="1" stop-color="#ffffff"/></linearGradient></defs>
<rect x="112.8" y="168.3" width="5.8" height="70" fill="url(#cb)" stroke="#cfcfcf" stroke-width="0.3"/>
<text x="0.5" y="173.9" font-size="6.5" font-weight="bold" fill="#231f20" stroke="#231f20" stroke-width="0.1" textLength="108.7" lengthAdjust="spacingAndGlyphs">TROPOMI overestimation ratio = 10%</text>
<text x="43.1" y="186.6" font-size="6.75" fill="#222" stroke="#222" stroke-width="0.08">Inclined to be diverse</text>
<text x="44" y="220.1" font-size="6.75" fill="#222" stroke="#222" stroke-width="0.08">Inclined to be similar</text>
<text x="4" y="237.5" font-size="6.5" font-weight="bold" fill="#231f20" stroke="#231f20" stroke-width="0.1" textLength="105.4" lengthAdjust="spacingAndGlyphs">TROPOMI overestimation ratio = 0%</text>
<rect x="364.5" y="21.5" width="320.0" height="202.0" fill="none" stroke="#b0b0b0" stroke-width="1"/>
<path d="M364.5,24.00h3.4M684.5,24.00h-3.4M364.5,45.10h3.4M684.5,45.10h-3.4M364.5,66.20h3.4M684.5,66.20h-3.4M364.5,87.30h3.4M684.5,87.30h-3.4M364.5,108.40h3.4M684.5,108.40h-3.4M364.5,129.50h3.4M684.5,129.50h-3.4M364.5,150.60h3.4M684.5,150.60h-3.4M364.5,171.70h3.4M684.5,171.70h-3.4M364.5,192.80h3.4M684.5,192.80h-3.4M364.5,213.90h3.4M684.5,213.90h-3.4M404.50,223.5v-3.4M404.50,21.5v3.4M445.50,223.5v-3.4M445.50,21.5v3.4M486.50,223.5v-3.4M486.50,21.5v3.4M527.50,223.5v-3.4M527.50,21.5v3.4M568.50,223.5v-3.4M568.50,21.5v3.4M609.50,223.5v-3.4M609.50,21.5v3.4M650.50,223.5v-3.4M650.50,21.5v3.4" stroke="#b0b0b0" stroke-width="0.8" fill="none"/>
<circle cx="663.1" cy="30.3" r="5.7" fill="#008080" fill-opacity="0.7"/>
<circle cx="634.0" cy="45.4" r="5.7" fill="#008080" fill-opacity="0.7"/>
<circle cx="600.5" cy="53.6" r="5.7" fill="#008080" fill-opacity="0.7"/>
<circle cx="534.4" cy="61.8" r="7.6" fill="#008080" fill-opacity="0.7"/>
<circle cx="541.5" cy="71.2" r="5.9" fill="#008080" fill-opacity="0.7"/>
<circle cx="565.1" cy="68.8" r="5.9" fill="#008080" fill-opacity="0.7"/>
<circle cx="560.6" cy="87.4" r="6.3" fill="#008080" fill-opacity="0.7"/>
<circle cx="553.2" cy="96.1" r="6.3" fill="#008080" fill-opacity="0.7"/>
<circle cx="552.5" cy="103.6" r="6.3" fill="#008080" fill-opacity="0.7"/>
<circle cx="561.1" cy="106.0" r="6.3" fill="#008080" fill-opacity="0.7"/>
<circle cx="598.7" cy="108.1" r="5.9" fill="#008080" fill-opacity="0.7"/>
<circle cx="596.1" cy="124.1" r="5.7" fill="#008080" fill-opacity="0.7"/>
<circle cx="603.2" cy="134.3" r="6.3" fill="#008080" fill-opacity="0.7"/>
<circle cx="552.8" cy="117.4" r="5.7" fill="#008080" fill-opacity="0.7"/>
<circle cx="547.1" cy="126.3" r="6.8" fill="#008080" fill-opacity="0.7"/>
<circle cx="528.3" cy="116.5" r="7.6" fill="#008080" fill-opacity="0.7"/>
<circle cx="529.3" cy="118.9" r="6.4" fill="#008080" fill-opacity="0.7"/>
<circle cx="512.2" cy="115.1" r="7.7" fill="#008080" fill-opacity="0.7"/>
<circle cx="496.8" cy="126.6" r="7.7" fill="#008080" fill-opacity="0.7"/>
<circle cx="508.6" cy="146.5" r="7.2" fill="#008080" fill-opacity="0.7"/>
<circle cx="483.3" cy="150.4" r="8.0" fill="#008080" fill-opacity="0.7"/>
<circle cx="483.5" cy="165.5" r="7.7" fill="#008080" fill-opacity="0.7"/>
<circle cx="509.7" cy="164.7" r="7.2" fill="#008080" fill-opacity="0.7"/>
<circle cx="515.9" cy="173.2" r="7.2" fill="#008080" fill-opacity="0.7"/>
<circle cx="528.4" cy="188.6" r="7.2" fill="#008080" fill-opacity="0.7"/>
<circle cx="563.5" cy="200.0" r="7.6" fill="#008080" fill-opacity="0.7"/>
<circle cx="466.3" cy="132.1" r="9.0" fill="#008080" fill-opacity="0.7"/>
<circle cx="458.3" cy="140.4" r="8.1" fill="#008080" fill-opacity="0.7"/>
<circle cx="458.6" cy="141.2" r="7.6" fill="#008080" fill-opacity="0.7"/>
<circle cx="458.2" cy="145.3" r="7.9" fill="#008080" fill-opacity="0.7"/>
<circle cx="443.2" cy="161.3" r="8.3" fill="#008080" fill-opacity="0.7"/>
<circle cx="436.0" cy="123.4" r="6.5" fill="#008080" fill-opacity="0.7"/>
<circle cx="394.5" cy="107.9" r="6.4" fill="#008080" fill-opacity="0.7"/>
<circle cx="384.5" cy="178.6" r="7.5" fill="#008080" fill-opacity="0.7"/>
<line x1="364.5" y1="192.6" x2="684" y2="57.6" stroke="#cca93f" stroke-width="0.85"/>
<g font-size="8.3" fill="#231f20" stroke="#231f20" stroke-width="0.22"><text x="577.4" y="34.3">Hongkong &amp; Macau</text>
<text x="644.0" y="47.7">Fujian</text>
<text x="608.3" y="55.7">Taiwan</text>
<text x="497.1" y="54.0">Shanghai</text>
<text x="577.4" y="71.8">Guangdong</text>
<text x="498.9" y="81.9">Chongqing</text>
<text x="568.7" y="88.4">Jiangxi</text>
<text x="523.7" y="96.0">Hubei</text>
<text x="566.4" y="101.0">Guangxi</text>
<text x="522.3" y="104.8">Hunan</text>
<text x="607.7" y="110.4">Guizhou</text>
<text x="372.8" y="100.0">Heilongjiang</text>
<text x="513.3" y="112.4">Zhejiang</text>
<text x="477.4" y="107.1">Jiangsu</text>
<text x="418.9" y="116.5">Jilin</text>
<text x="473.7" y="119.3">Henan</text>
<text x="448.2" y="123.2">Tianjin</text>
<text x="558.2" y="124.3">Anhui</text>
<text x="607.2" y="125.2">Yunnan</text>
<text x="511.8" y="130.2">Sichuan</text>
<text x="535.3" y="137.9">Shaanxi</text>
<text x="423.8" y="138.4">Shandong</text>
<text x="497.6" y="141.1">National</text>
<text x="473.0" y="142.2">Hebei</text>
<text x="613.3" y="142.0">Hainan</text>
<text x="420.0" y="147.4">Liaoning</text>
<text x="448.9" y="161.3">Shanxi</text>
<text x="511.8" y="161.5">Xinjiang</text>
<text x="372.8" y="167.3">Inner-Mongolia</text>
<text x="431.0" y="179.4">Beijing</text>
<text x="468.6" y="180.1">Ningxia</text>
<text x="529.9" y="182.2">Qinghai</text>
<text x="498.3" y="184.5">Gansu</text>
<text x="566.5" y="190.3">Tibet</text></g>
<rect x="463.9" y="117.3" width="4.1" height="5.4" fill="#c2c2c2" fill-opacity="0.85"/>
<text x="369.8" y="37.3" font-size="11" font-weight="bold" fill="#231f20" stroke="#231f20" stroke-width="0.15">Positive correlation of r=0.56</text>
<text transform="translate(357,192.3) rotate(-90)" font-size="11.4" font-weight="bold" fill="#111" stroke="#111" stroke-width="0.15">Diurnal varying level of O<tspan font-size="7.5" dy="2.5">3</tspan></text>
<text x="412.8" y="239.8" font-size="11.25" font-weight="bold" fill="#111" stroke="#111" stroke-width="0.15">Discrepancies between GEMS and TROPOMI</text>
</svg>
</body></html>
